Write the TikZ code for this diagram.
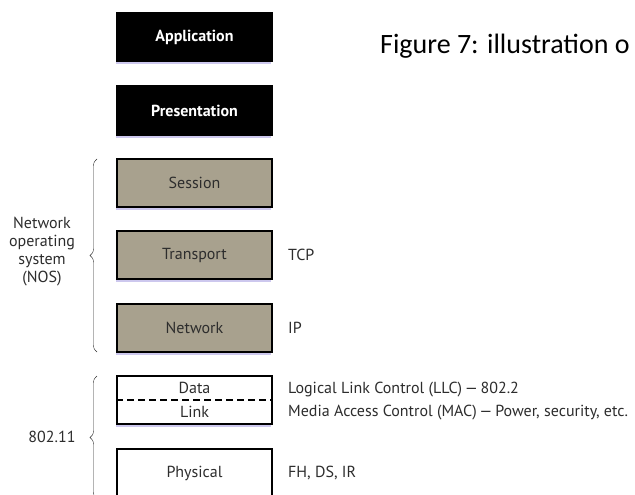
\documentclass[tikz,border=0pt]{standalone}
\usepackage{fontspec}
\setsansfont{PT Sans}
\newfontfamily\capfont{Carlito}
\usetikzlibrary{positioning,shadows,decorations.pathreplacing}

\definecolor{layergray}{RGB}{168,161,142}
\definecolor{inkgray}{RGB}{45,45,45}
\definecolor{shadowblue}{RGB}{205,200,238}

\tikzset{
  layer/.style={draw=black, line width=2pt, minimum width=155pt, minimum height=48pt,
    font=\sffamily\fontsize{16}{18}\selectfont,
    drop shadow={shadow xshift=-1pt, shadow yshift=-3pt, fill=shadowblue, opacity=1}},
  toplayer/.style={layer, fill=black, text=white, font=\sffamily\bfseries\fontsize{16}{18}\selectfont},
  oslayer/.style={layer, fill=layergray, text=inkgray},
  wirelayer/.style={layer, fill=white, text=inkgray},
  side/.style={anchor=west, text=inkgray, inner sep=0pt, font=\sffamily\fontsize{16}{18}\selectfont},
  grp/.style={draw=inkgray, thin, decorate, decoration={brace, amplitude=7pt}},
}

\begin{document}
\begin{tikzpicture}[x=1pt, y=-1pt]
  \clip (0,0) rectangle (635,495);
  \fill[white] (0,0) rectangle (635,495);
  % the seven layers
  \node[toplayer] (app) at (194.5,37.5) {Application};
  \node[toplayer] (pres) at (194.5,110.5) {Presentation};
  \node[oslayer] (sess) at (194.5,183) {Session};
  \node[oslayer] (trans) at (194.5,255) {Transport};
  \node[oslayer] (net) at (194.5,328) {Network};
  \node[wirelayer] (dl) at (194.5,400) {};
  \node[wirelayer] (phy) at (194.5,473) {Physical};
  \node[text=inkgray, font=\sffamily\fontsize{16}{18}\selectfont] (data) at (194.5,388) {Data};
  \node[text=inkgray, font=\sffamily\fontsize{16}{18}\selectfont] (link) at (194.5,412) {Link};
  \draw[line width=2pt, dash pattern=on 7pt off 4pt] (dl.west) -- (dl.east);
  % protocols on the right
  \node[side] (tcp) at (288,255) {TCP};
  \node[side] (ip) at (288,328) {IP};
  \node[side] (llc) at (288,390) {Logical Link Control (LLC)\,---\,802.2};
  \node[side] (mac) at (288,413) {Media Access Control (MAC)\,---\,Power, security, etc.};
  \node[side] (fh) at (288,473) {FH, DS, IR};
  % braces
  \coordinate (nosbot) at (97,352);
  \coordinate (nostop) at (97,159);
  \draw[grp] (nosbot) -- (nostop);
  \node[align=center, text=inkgray, font=\sffamily\fontsize{16}{18}\selectfont] (nos) at (42,252)
    {Network\\operating\\system\\(NOS)};
  \coordinate (wbot) at (97,499);
  \coordinate (wtop) at (97,376);
  \draw[grp] (wbot) -- (wtop);
  \node[text=inkgray, font=\sffamily\fontsize{16}{18}\selectfont] (wifi) at (52,437) {802.11};
  % caption
  \node[anchor=west, inner sep=0pt, font=\capfont\fontsize{28}{32}\selectfont] (cap) at (380,46)
    {Figure 7: illustration o};
\end{tikzpicture}
\end{document}
